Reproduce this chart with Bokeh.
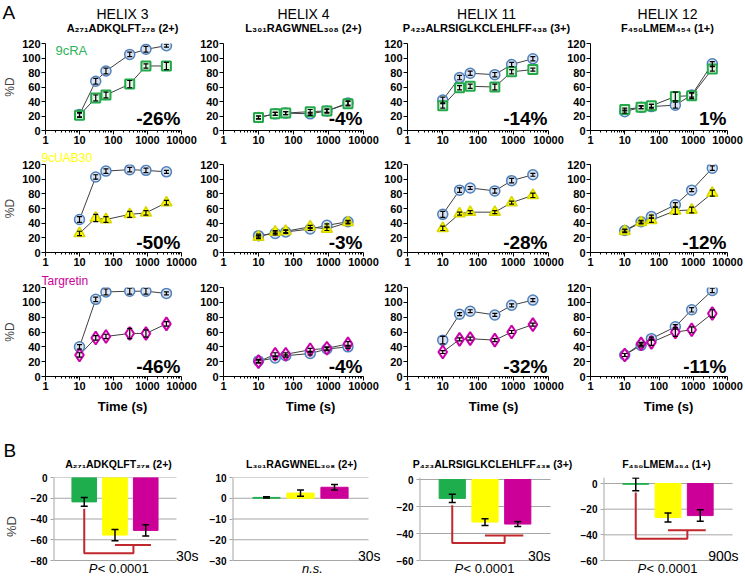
from bokeh.plotting import figure
from bokeh.layouts import row, column
from bokeh.models import (Range1d, FixedTicker, NumeralTickFormatter, Title,
                          Whisker, TeeHead, ColumnDataSource)
from bokeh.core.properties import value
from bokeh.embed import file_html
from bokeh.resources import INLINE

FONT = "Liberation Sans"

# ---------------- data ----------------
times = [10, 30, 60, 300, 900, 3600]
x_ticks = [1, 10, 100, 1000, 10000]
y_ticks_a = [0, 20, 40, 60, 80, 100, 120]

helix_names = ["HELIX 3", "HELIX 4", "HELIX 11", "HELIX 12"]
peptides = ["A₂₇₁ADKQLFT₂₇₈ (2+)", "L₃₀₁RAGWNEL₃₀₈ (2+)",
            "P₄₂₃ALRSIGLKCLEHLFF₄₃₈ (3+)", "F₄₅₀LMEM₄₅₄ (1+)"]
ligand_names = ["9cRA", "9cUAB30", "Targretin"]

# row 1 : 9cRA (apo = blue circles, ligand = green squares)
apo_9cra = [[22, 68, 82, 105, 112, 117], [18, 23, 24, 23, 27, 38],
            [42, 73, 79, 77, 91, 99], [26, 32, 33, 35, 49, 92]]
apo_9cra_err = [[3, 4, 4, 3, 4, 2], [2, 2, 2, 2, 2, 3],
                [4, 3, 3, 3, 3, 3], [2, 2, 3, 4, 3, 3]]
lig_9cra = [[21, 45, 49, 64, 89, 89], [18, 23, 24, 26, 27, 37],
            [34, 59, 61, 60, 81, 84], [29, 32, 34, 47, 48, 85]]
lig_9cra_err = [[3, 4, 4, 5, 3, 5], [2, 2, 2, 3, 3, 3],
                [3, 3, 3, 4, 3, 2], [2, 2, 2, 6, 4, 3]]
pct_9cra = ["-26%", "-4%", "-14%", "1%"]

# row 2 : 9cUAB30 (yellow triangles)
apo_uab = [[45, 103, 111, 113, 112, 110], [23, 26, 28, 32, 37, 42],
           [52, 85, 88, 84, 98, 106], [30, 42, 49, 65, 85, 115]]
apo_uab_err = [[4, 3, 3, 3, 3, 2], [2, 2, 2, 2, 2, 2],
               [4, 3, 2, 3, 3, 2], [2, 2, 2, 3, 2, 3]]
lig_uab = [[26, 47, 45, 52, 54, 68], [21, 28, 29, 35, 32, 41],
           [33, 53, 55, 55, 68, 78], [29, 41, 44, 57, 58, 81]]
lig_uab_err = [[3, 5, 4, 4, 3, 3], [2, 2, 2, 2, 2, 2],
               [3, 2, 2, 2, 2, 3], [2, 2, 3, 5, 4, 4]]
pct_uab = ["-50%", "-3%", "-28%", "-12%"]

# row 3 : Targretin (magenta diamonds)
apo_targ = [[40, 104, 114, 115, 115, 112], [21, 25, 28, 31, 37, 40],
            [49, 84, 88, 83, 96, 103], [29, 42, 51, 67, 90, 116]]
apo_targ_err = [[3, 3, 4, 4, 4, 2], [2, 2, 2, 2, 2, 2],
                [5, 2, 2, 2, 2, 2], [2, 2, 2, 3, 3, 3]]
lig_targ = [[29, 52, 54, 58, 58, 71], [20, 30, 30, 36, 38, 44],
            [33, 50, 51, 49, 60, 70], [29, 44, 46, 60, 63, 85]]
lig_targ_err = [[3, 3, 3, 7, 5, 3], [2, 2, 2, 2, 2, 3],
                [2, 2, 2, 2, 2, 2], [2, 2, 4, 6, 4, 5]]
pct_targ = ["-46%", "-4%", "-32%", "-11%"]

# panel B : difference in %D (9cRA, 9cUAB30, Targretin)
bar_helix3 = [-23.5, -55.5, -51.0]
bar_helix3_err = [4.3, 5.5, 5.5]
bar_helix4 = [0.4, 2.5, 5.3]
bar_helix4_err = [0.3, 1.5, 1.3]
bar_helix11 = [-14.0, -31.5, -33.0]
bar_helix11_err = [3.0, 2.5, 1.8]
bar_helix12 = [-0.6, -26.5, -25.0]
bar_helix12_err = [5.0, 3.5, 4.5]
bar_time = ["30s", "30s", "30s", "900s"]
bar_stat = ["P", "n.s.", "P", "P"]
bar_pval = ["< 0.0001", "", "< 0.0001", "< 0.0001"]
bar_yticks = [[0, -20, -40, -60, -80], [10, 0, -10, -20, -30],
              [0, -20, -40, -60], [0, -20, -40, -60]]
bar_yrange = [(-80, 0), (-30, 10), (-60, 1.5), (-60, 4.7)]
# significance brackets: drop start, low level, high level
bracket_start = [-30, None, -19, -7]
bracket_low = [-73, None, -47, -43]
bracket_high = [-65, None, -41.5, -36.5]

# ---------------- styles / layout (page pixels) ----------------
LINE = "#404040"
GRID = "#A6A6A6"
apo_style = dict(marker="circle", size=10, line_color="#4F81BD",
                 fill_color="#DCE3F0", line_width=1.5)
lig_styles = [
    dict(marker="square", size=9, line_color="#22AA4A", fill_color="#E6F4E6", line_width=2),
    dict(marker="triangle", size=11, line_color="#D6D600", fill_color="#FFFF00", line_width=1.5),
    dict(marker="diamond", size=13, line_color="#CC00AA", fill_color="#F8E4F3", line_width=2),
]
lig_label_colors = ["#2DB35A", "#FFFF00", "#CC0099"]
bar_colors = ["#1EAE4E", "#FFFF00", "#CC0099"]
RED = "#C0282D"
TOTAL_W = 743

AW = [197, 182, 185, 179]
AL = [40, 25, 28, 24]
AR = [16, 16, 16, 16]
ROW_H = [113, 122, 124]
ROW_T = [8, 16, 17]
ROW_B = [18, 18, 18]
PCT_Y = [16.5, 14, 13.5]

T1_H, T2_H = 35, 76
TITLE_X = [122, 303, 486, 667]
TIME_X = [122, 310, 493, 668]

BX0 = [0, 200, 382, 564]
BW = [200, 182, 182, 179]
BL = [47, 32, 37, 39]
BFRAME_W = [128, 136, 131, 129]      # pixel width of the 0..4 category span
BH, BT = 105, 7
BPLOT_H = 83                           # pixel height of the value range
BTITLE = [(118, 69.5), (301, 69.5), (492, 69.5), (666, 69)]
BTIME_DX = [22, 12, 0, 6]
BSTAT_X = [115, 312, 484, 667]

minor = [m * 10 ** d for d in range(4) for m in range(2, 10)]


def strip(h):
    s = figure(width=TOTAL_W, height=h, x_range=Range1d(0, TOTAL_W), y_range=Range1d(h, 0),
               output_backend="svg", toolbar_location=None, title=None,
               x_axis_location=None, y_axis_location=None,
               min_border_left=0, min_border_right=0, min_border_top=0, min_border_bottom=0)
    s.outline_line_color = None
    s.grid.visible = False
    return s


def txt(p, xs, ys, texts, size="10px", style="normal", color="black", align="left",
        baseline="middle", x_offset=0):
    p.text(x=xs, y=ys, text=texts, text_font=value(FONT), text_font_size=size,
           text_font_style=style, text_color=color, text_align=align,
           text_baseline=baseline, x_offset=x_offset)


def add_err(p, xs, vals, errs, head, width=1.0):
    src = ColumnDataSource(dict(base=xs,
                                upper=[v + e for v, e in zip(vals, errs)],
                                lower=[v - e for v, e in zip(vals, errs)]))
    w = Whisker(source=src, base="base", upper="upper", lower="lower",
                line_color="black", line_width=width, level="overlay",
                upper_head=TeeHead(size=head, line_color="black", line_width=width),
                lower_head=TeeHead(size=head, line_color="black", line_width=width))
    p.add_layout(w)


def a_panel(r, c, apo, apo_err, lig, lig_err, pct):
    p = figure(width=AW[c], height=ROW_H[r], x_axis_type="log",
               x_range=Range1d(1, 10000), y_range=Range1d(0, 120),
               output_backend="svg", toolbar_location=None, title=None,
               min_border_left=AL[c], min_border_right=AR[c],
               min_border_top=ROW_T[r], min_border_bottom=ROW_B[r])
    p.outline_line_color = None
    p.xgrid.visible = False
    p.ygrid.visible = False

    p.line(times, apo, line_color=LINE, line_width=1)
    p.line(times, lig, line_color=LINE, line_width=1)
    p.scatter(times, apo, **apo_style)
    p.scatter(times, lig, **lig_styles[r])
    add_err(p, times, apo, apo_err, 5, 1.2)
    add_err(p, times, lig, lig_err, 5, 1.2)

    xa = p.xaxis[0]
    xa.ticker = FixedTicker(ticks=x_ticks, minor_ticks=minor)
    xa.formatter = NumeralTickFormatter(format="0")
    ya = p.yaxis[0]
    ya.ticker = FixedTicker(ticks=y_ticks_a)
    for ax in (xa, ya):
        ax.axis_line_color = "black"
        ax.major_tick_line_color = "black"
        ax.minor_tick_line_color = "black"
        ax.major_tick_in = 0
        ax.major_tick_out = 4
        ax.minor_tick_in = 0
        ax.minor_tick_out = 2
        ax.major_label_standoff = 1
        ax.major_label_text_font = FONT
        ax.major_label_text_font_size = "11px"
        ax.major_label_text_font_style = "bold"
        ax.major_label_text_color = "black"
    if c == 0:
        ya.axis_label = "%D"
        ya.axis_label_text_font = FONT
        ya.axis_label_text_font_size = "12px"
        ya.axis_label_text_font_style = "normal"
        ya.axis_label_standoff = 2
        if r == 0:
            txt(p, [1], [110.5], [ligand_names[r]], size="13px",
                color=lig_label_colors[r], x_offset=10)
        else:
            p.add_layout(Title(text=ligand_names[r], align="left", offset=-4, standoff=0,
                               text_font=FONT, text_font_size="12px", text_font_style="normal",
                               text_color=lig_label_colors[r], vertical_align="bottom"),
                         "above")

    txt(p, [10000], [PCT_Y[r]], [pct], size="19px", style="bold", align="right", x_offset=-1)
    return p


def b_panel(c, vals, errs):
    lo, hi = bar_yrange[c]
    per_px = (hi - lo) / BPLOT_H
    lo_ext = lo - per_px * (BH - BT - BPLOT_H)
    n = len(vals)
    span = n + 1
    x_end = span * (BW[c] - BL[c]) / BFRAME_W[c]
    p = figure(width=BW[c], height=BH, x_range=Range1d(0, x_end), y_range=Range1d(lo_ext, hi),
               output_backend="svg", toolbar_location=None, title=None,
               min_border_left=BL[c], min_border_right=0,
               min_border_top=BT, min_border_bottom=0)
    p.outline_line_color = None
    p.grid.visible = False
    p.xaxis.visible = False
    xs = [i + 1 for i in range(n)]
    ticks = bar_yticks[c]
    p.segment(x0=[0] * len(ticks), x1=[span] * len(ticks), y0=ticks, y1=ticks,
              line_color=GRID, line_width=1)
    p.segment(x0=[0], x1=[0], y0=[lo], y1=[hi], line_color=GRID, line_width=2)
    p.vbar(x=xs, top=vals, bottom=0, width=0.8, fill_color=bar_colors,
           line_color=bar_colors, line_width=1)
    add_err(p, xs, vals, errs, 7, width=1.5)

    ya = p.yaxis[0]
    ya.ticker = FixedTicker(ticks=ticks)
    ya.axis_line_color = None
    ya.major_tick_line_color = GRID
    ya.major_tick_in = 0
    ya.major_tick_out = 3
    ya.minor_tick_line_color = None
    ya.major_label_standoff = 3
    ya.major_label_text_font = FONT
    ya.major_label_text_font_size = "10px"
    ya.major_label_text_font_style = "bold"
    ya.major_label_text_color = "black"
    if c == 0:
        ya.axis_label = "%D"
        ya.axis_label_text_font = FONT
        ya.axis_label_text_font_size = "13px"
        ya.axis_label_text_font_style = "normal"
        ya.axis_label_standoff = 9

    if bracket_start[c] is not None:
        g, y1, y2 = xs[0], xs[1], xs[2]
        mid = (y1 + y2) / 2 + 0.1
        p.line([g, g, mid, mid], [bracket_start[c], bracket_low[c], bracket_low[c], bracket_high[c]],
               line_color=RED, line_width=2)
        p.line([y1, y2 + 0.17], [bracket_high[c], bracket_high[c]], line_color=RED, line_width=2)

    # time label and statistics below the bars
    txt(p, [span], [lo + per_px * 5], [bar_time[c]], size="14px", align="right",
        x_offset=BTIME_DX[c])
    sx = (BSTAT_X[c] - BX0[c] - BL[c]) / BFRAME_W[c] * span
    sy = lo - per_px * 7.5
    if bar_pval[c]:
        txt(p, [sx], [sy], [bar_stat[c]], size="13px", style="italic", x_offset=-30)
        txt(p, [sx], [sy], [bar_pval[c]], size="13px", x_offset=-21)
    else:
        txt(p, [sx], [sy], [bar_stat[c]], size="13px", style="italic", align="center")
    return p


rows_data = [
    (apo_9cra, apo_9cra_err, lig_9cra, lig_9cra_err, pct_9cra),
    (apo_uab, apo_uab_err, lig_uab, lig_uab_err, pct_uab),
    (apo_targ, apo_targ_err, lig_targ, lig_targ_err, pct_targ),
]

# title strip
t1 = strip(T1_H)
txt(t1, [2], [1], ["A"], size="19px", baseline="top")
txt(t1, TITLE_X, [13] * 4, helix_names, size="14px", align="center")
txt(t1, TITLE_X, [27] * 4, peptides, size="11px", style="bold", align="center")

layout_rows = [t1]
for r, (a, ae, l, le, pc) in enumerate(rows_data):
    figs = [a_panel(r, c, a[c], ae[c], l[c], le[c], pc[c]) for c in range(4)]
    layout_rows.append(row(figs, spacing=0))

# strip between A and B
t2 = strip(T2_H)
txt(t2, TIME_X, [12] * 4, ["Time (s)"] * 4, size="13px", style="bold", align="center")
txt(t2, [3], [45], ["B"], size="19px", baseline="top")
txt(t2, [b[0] for b in BTITLE], [b[1] for b in BTITLE], peptides, size="10.5px",
    style="bold", align="center")
layout_rows.append(t2)

bar_sets = [(bar_helix3, bar_helix3_err), (bar_helix4, bar_helix4_err),
            (bar_helix11, bar_helix11_err), (bar_helix12, bar_helix12_err)]
layout_rows.append(row([b_panel(c, v, e) for c, (v, e) in enumerate(bar_sets)], spacing=0))

p = column(layout_rows, spacing=0)
open("out.html", "w").write(file_html(p, INLINE))
